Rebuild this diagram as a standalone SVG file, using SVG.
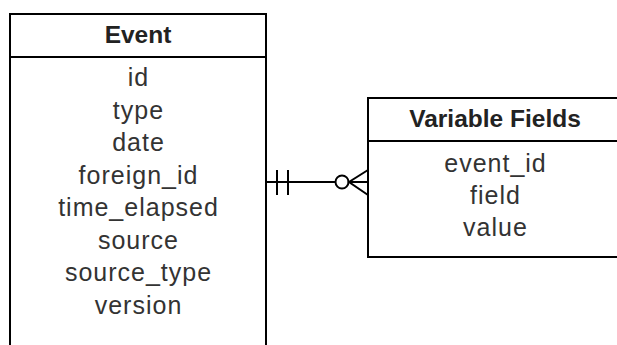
<svg xmlns="http://www.w3.org/2000/svg" width="617" height="345" viewBox="0 0 617 345">
<style>
.box{fill:#fff;stroke:#000;stroke-width:2}
.ln{fill:none;stroke:#000;stroke-width:2}
.h{font-family:"Liberation Sans",Arial,sans-serif;font-weight:bold;font-size:24.5px;fill:#222;text-anchor:middle}
.f{font-family:"Liberation Sans",Arial,sans-serif;font-size:25px;letter-spacing:1px;fill:#333;text-anchor:middle}
</style>
<rect width="617" height="345" fill="#fff"/>
<g id="event">
<rect class="box" x="10" y="14" width="256" height="345"/>
<line class="ln" x1="10" y1="57" x2="266" y2="57"/>
<text class="h" x="138" y="43">Event</text>
<text class="f" x="138.5" y="86">id</text>
<text class="f" x="138.5" y="118.5">type</text>
<text class="f" x="138.5" y="151">date</text>
<text class="f" x="138.5" y="183.5">foreign_id</text>
<text class="f" x="138.5" y="216">time_elapsed</text>
<text class="f" x="138.5" y="248.5">source</text>
<text class="f" x="138.5" y="281">source_type</text>
<text class="f" x="138.5" y="313.5">version</text>
</g>
<g id="variable-fields">
<rect class="box" x="368" y="98" width="260" height="159"/>
<line class="ln" x1="368" y1="141" x2="628" y2="141"/>
<text class="h" x="495" y="127">Variable Fields</text>
<text class="f" x="495.5" y="171.5">event_id</text>
<text class="f" x="495.5" y="203.5">field</text>
<text class="f" x="495.5" y="235.5">value</text>
</g>
<g id="connectors">
<line class="ln" x1="266" y1="182" x2="335" y2="182"/>
<line class="ln" x1="277" y1="170" x2="277" y2="195"/>
<line class="ln" x1="288" y1="170" x2="288" y2="195"/>
<circle class="ln" cx="342" cy="182" r="6.5"/>
<path class="ln" d="M368,170 L349,182 L368,195 M349,182 L368,182"/>
</g>
</svg>
